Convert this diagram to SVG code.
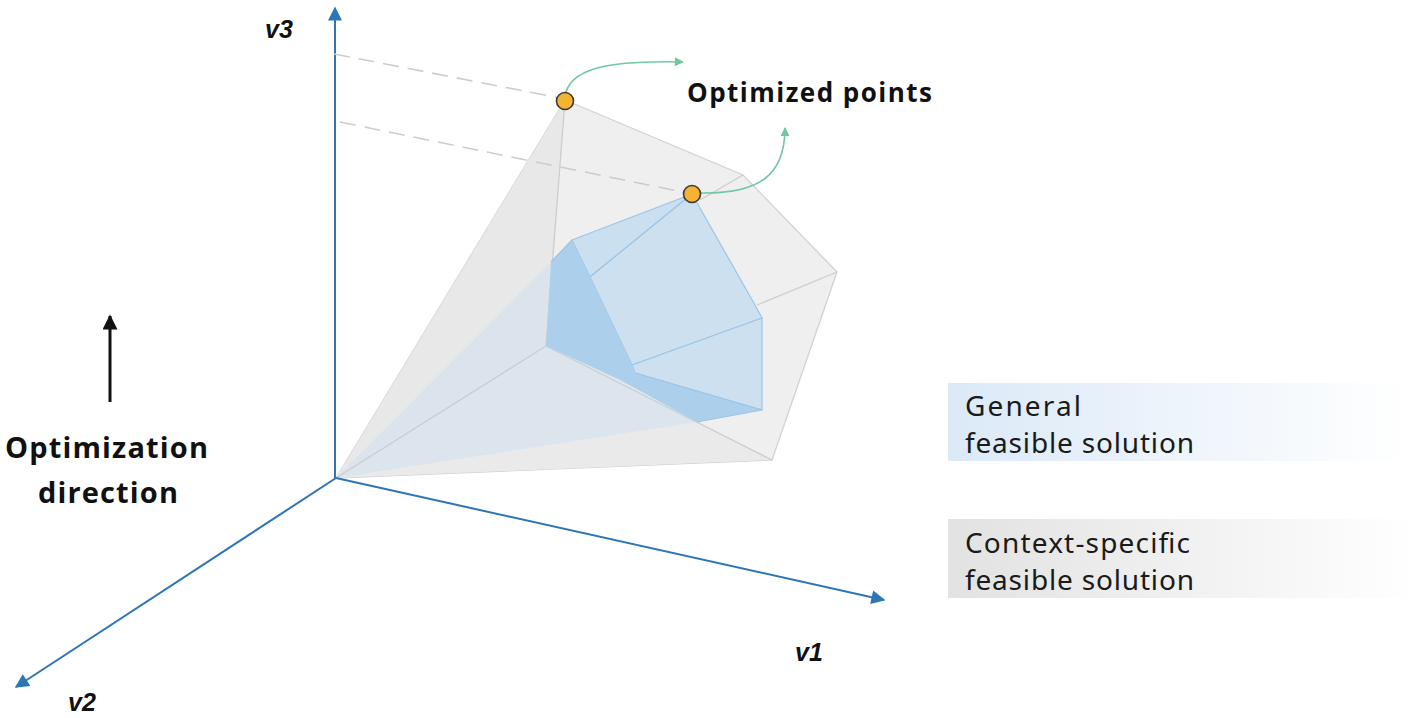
<svg xmlns="http://www.w3.org/2000/svg" width="1417" height="718" viewBox="0 0 1417 718">
<defs>
<style>
.axis{stroke:#2e75b6;stroke-width:2;fill:none}
.edge{stroke:#cdcdcd;stroke-width:1.3;fill:none}
.bedge{stroke:#9cc5e8;stroke-width:1.2}
.dash{stroke:#cccccc;stroke-width:1.6;stroke-dasharray:16 9;fill:none}
.green{stroke:#70c8a2;stroke-width:1.6;fill:none}
.lbl{font-family:"Liberation Sans",Arial,sans-serif;font-weight:bold;font-style:italic;font-size:25px;fill:#111}
.bold{font-family:"Open Sans","Noto Sans",sans-serif;font-weight:bold;fill:#111}
.leg{font-family:"Noto Sans","Open Sans",sans-serif;font-size:28px;fill:#1a1a1a}
.opt{fill:#f6b233;stroke:#3a3a3a;stroke-width:1.6}
</style>
<marker id="ab" viewBox="0 0 10 10" markerWidth="17" markerHeight="14" refX="9" refY="5" orient="auto" markerUnits="userSpaceOnUse"><path d="M0,0 L10,5 L0,10 z" fill="#2e75b6"/></marker>
<marker id="ag" viewBox="0 0 10 10" markerWidth="11" markerHeight="9" refX="9" refY="5" orient="auto" markerUnits="userSpaceOnUse"><path d="M0,0 L10,5 L0,10 z" fill="#70c8a2"/></marker>
<marker id="ak" viewBox="0 0 10 10" markerWidth="16" markerHeight="15" refX="9" refY="5" orient="auto" markerUnits="userSpaceOnUse"><path d="M0,0 L10,5 L0,10 z" fill="#111"/></marker>
<linearGradient id="gBlue" x1="0" y1="0" x2="1" y2="0"><stop offset="0" stop-color="#dbe9f7"/><stop offset="1" stop-color="#ffffff"/></linearGradient>
<linearGradient id="gGray" x1="0" y1="0" x2="1" y2="0"><stop offset="0" stop-color="#e2e2e2"/><stop offset="1" stop-color="#ffffff"/></linearGradient>
</defs>

<g id="context-polytope">
<polygon points="336,478 565,100 743,175 837,272 772,460" fill="#efefef" stroke="#d2d2d2" stroke-width="1.3"/>
<polygon points="336,478 565,100 546,346" fill="#e8e8e8"/>
<polygon points="336,478 546,346 772,460" fill="#eaeaea"/>
<polygon points="336,478 551,262 546,346 620,380 697,422" fill="#cfe0ef" fill-opacity="0.55"/>
<path class="edge" d="M336,478 L546,346 M565,100 L546,346 M546,346 L772,460 M743,175 L700,200 M837,272 L757,305"/>
</g>

<g id="general-polytope">
<polygon class="bedge" points="572,240 692,194 590,277" fill="#cadff0"/>
<polygon class="bedge" points="692,194 755,305 762,318 632,365 590,277" fill="#cde0f0"/>
<polygon class="bedge" points="632,365 762,318 762,410 635,373" fill="#cde0f0"/>
<polygon points="572,240 590,277 632,365 635,373 762,410 697,422 620,380 546,346 551,262" fill="#acd0eb"/>
<path class="bedge" fill="none" d="M572,240 L551,262 M635,373 L762,410 L697,422"/>
</g>

<g id="axes">
<line class="axis" x1="335" y1="479" x2="335" y2="8" marker-end="url(#ab)"/>
<line class="axis" x1="336" y1="478" x2="884" y2="600" marker-end="url(#ab)"/>
<line class="axis" x1="336" y1="478" x2="16" y2="687" marker-end="url(#ab)"/>
<text class="lbl" x="265" y="38">v3</text>
<text class="lbl" x="795" y="661">v1</text>
<text class="lbl" x="68" y="711">v2</text>
</g>

<g id="connectors">
<path class="dash" d="M334,54 L560,98"/>
<path class="dash" d="M340,122 L688,193"/>
<path class="green" d="M565,98 C567,68 610,60 683,62" marker-end="url(#ag)"/>
<path class="green" d="M700,193 C760,194 785,175 785,128" marker-end="url(#ag)"/>
<line x1="110" y1="402" x2="110" y2="316" stroke="#111" stroke-width="3" marker-end="url(#ak)"/>
</g>

<g id="optimized-points">
<circle class="opt" cx="565" cy="101" r="8.5"/>
<circle class="opt" cx="692" cy="194" r="8.5"/>
<text class="bold" x="687" y="102" font-size="26" textLength="245">Optimized points</text>
</g>

<g id="optimization-direction">
<text class="bold" font-size="29" x="5" y="458" textLength="203">Optimization</text>
<text class="bold" font-size="29" x="38" y="503" textLength="140">direction</text>
</g>

<g id="legend-general">
<rect x="948" y="383" width="460" height="78" fill="url(#gBlue)"/>
<text class="leg" x="965" y="416" textLength="116">General</text>
<text class="leg" x="965" y="453" textLength="229">feasible solution</text>
</g>

<g id="legend-context">
<rect x="948" y="519" width="469" height="79" fill="url(#gGray)"/>
<text class="leg" x="965" y="553" textLength="225">Context-specific</text>
<text class="leg" x="965" y="590" textLength="229">feasible solution</text>
</g>
</svg>
